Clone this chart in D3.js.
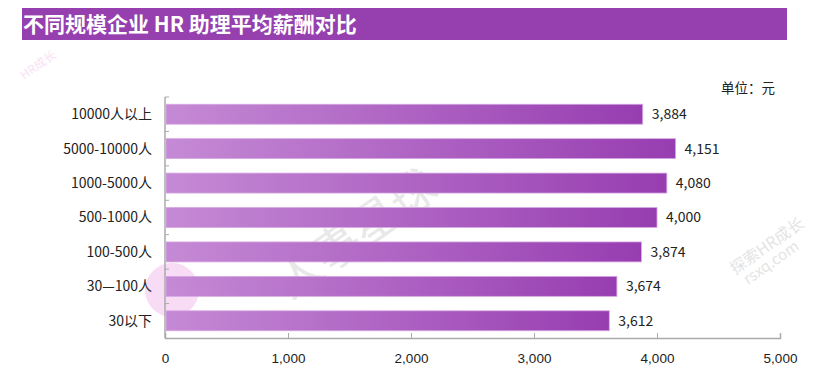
<!DOCTYPE html>
<html>
<head>
<meta charset="utf-8">
<script src="https://cdn.jsdelivr.net/npm/d3@7"></script>
<style>
  body { margin: 0; background: #fff; }
  svg { display: block; font-family: "Noto Sans CJK SC", "Noto Sans", sans-serif; }
</style>
</head>
<body>
<div id="chart"></div>
<script>
const categories = ['10000人以上', '5000-10000人', '1000-5000人', '500-1000人', '100-500人', '30—100人', '30以下'];
const salaries = [3884, 4151, 4080, 4000, 3874, 3674, 3612];
const xTicks = [0, 1000, 2000, 3000, 4000, 5000];

const width = 840;
const height = 374;
const margin = { top: 97, right: 60, bottom: 36, left: 165 };

const svg = d3.select('#chart')
  .append('svg')
    .attr('width', width)
    .attr('height', height);

// gradient for bars
const defs = svg.append('defs');
const grad = defs.append('linearGradient')
    .attr('id', 'barGrad')
    .attr('x1', '0%').attr('x2', '100%')
    .attr('y1', '0%').attr('y2', '0%');
grad.append('stop').attr('offset', '0%').attr('stop-color', '#c58ad5');
grad.append('stop').attr('offset', '100%').attr('stop-color', '#973db1');

// watermark (faint)
const wm = svg.append('g').attr('class', 'watermark').style('pointer-events', 'none');
wm.append('circle').attr('cx', 172).attr('cy', 290).attr('r', 27).attr('fill', '#f8dcf5');
wm.append('text')
    .attr('transform', 'translate(290,300) rotate(-35)')
    .attr('font-size', 46)
    .attr('fill', '#e8e8e8')
    .text('人事星球');
wm.append('text')
    .attr('transform', 'translate(735,275) rotate(-35)')
    .attr('font-size', 16)
    .attr('fill', '#e4e4e4')
    .text('探索HR成长');
wm.append('text')
    .attr('transform', 'translate(748,285) rotate(-35)')
    .attr('font-size', 15)
    .attr('fill', '#e4e4e4')
    .text('rsxq.com');
wm.append('text')
    .attr('transform', 'translate(24,80) rotate(-35)')
    .attr('font-size', 12)
    .attr('fill', '#f7e2f4')
    .text('HR成长');

// title bar
svg.append('rect')
    .attr('x', 22).attr('y', 8)
    .attr('width', 765).attr('height', 32)
    .attr('fill', '#9540ae');
svg.append('text')
    .attr('x', 23).attr('y', 32)
    .attr('fill', '#fff')
    .attr('font-size', 21)
    .attr('font-weight', 'bold')
    .text('不同规模企业 HR 助理平均薪酬对比');

svg.append('text')
    .attr('x', 775).attr('y', 93)
    .attr('text-anchor', 'end')
    .attr('font-size', 13.5)
    .attr('fill', '#222')
    .text('单位：元');

const x = d3.scaleLinear()
    .domain([0, 5000])
    .range([margin.left, width - margin.right]);

const y = d3.scaleBand()
    .domain(categories)
    .range([margin.top, height - margin.bottom])
    .paddingInner(0.42)
    .paddingOuter(0.21);

// x axis
const xAxis = svg.append('g')
    .attr('transform', `translate(0,${height - margin.bottom})`)
    .call(d3.axisBottom(x).tickValues(xTicks).tickFormat(d3.format(',')).tickSize(-5).tickPadding(15));
xAxis.select('.domain').attr('stroke', '#aaa').attr('stroke-width', 1.5);
xAxis.selectAll('.tick line').attr('stroke', '#aaa');
xAxis.selectAll('.tick text').attr('font-size', 13.5).attr('fill', '#222');

// y axis with ticks between bands
const yAxis = svg.append('g').attr('transform', `translate(${margin.left},0)`);
yAxis.append('line')
    .attr('x1', 0).attr('x2', 0)
    .attr('y1', margin.top).attr('y2', height - margin.bottom)
    .attr('stroke', '#aaa').attr('stroke-width', 1.5);
const step = y.step();
yAxis.selectAll('.ytick')
  .data(d3.range(categories.length))
  .enter()
  .append('line')
    .attr('x1', 0).attr('x2', 4)
    .attr('y1', i => margin.top + i * step)
    .attr('y2', i => margin.top + i * step)
    .attr('stroke', '#aaa');
yAxis.selectAll('.ylabel')
  .data(categories)
  .enter()
  .append('text')
    .attr('x', -13)
    .attr('y', d => y(d) + y.bandwidth() / 2)
    .attr('dy', '0.35em')
    .attr('text-anchor', 'end')
    .attr('font-size', 14)
    .attr('fill', '#222')
    .text(d => d);

// bars
const rows = categories.map((c, i) => ({ cat: c, val: salaries[i] }));
svg.append('g').selectAll('rect')
  .data(rows)
  .enter()
  .append('rect')
    .attr('x', x(0) + 1)
    .attr('y', d => y(d.cat))
    .attr('width', d => x(d.val) - x(0) - 1)
    .attr('height', y.bandwidth())
    .attr('fill', 'url(#barGrad)')
    .attr('stroke', '#d7a9e3')
    .attr('stroke-width', 0.8);

svg.append('g').selectAll('text')
  .data(rows)
  .enter()
  .append('text')
    .attr('x', d => x(d.val) + 9)
    .attr('y', d => y(d.cat) + y.bandwidth() / 2)
    .attr('dy', '0.35em')
    .attr('font-size', 14)
    .attr('fill', '#222')
    .text(d => d3.format(',')(d.val));
</script>
</body>
</html>
